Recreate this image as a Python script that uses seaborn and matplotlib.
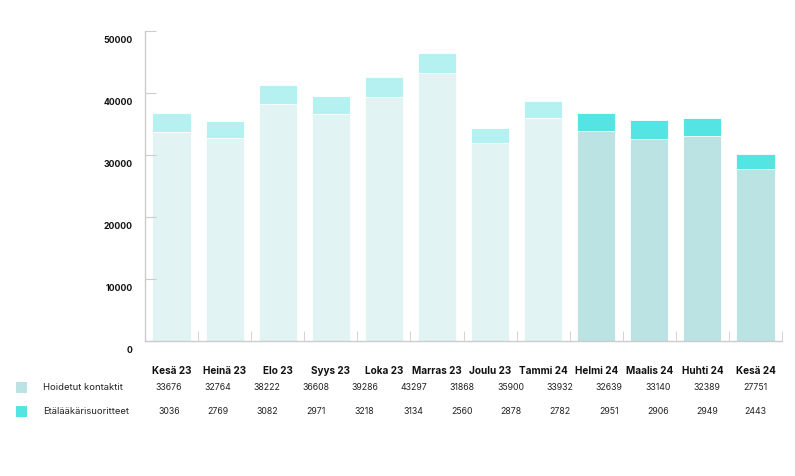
import matplotlib.pyplot as plt
import matplotlib.transforms as mtransforms
from matplotlib.patches import Rectangle
import seaborn as sns
import numpy as np

# bars (12 months shown in the chart)
months = ["Kesä 23", "Heinä 23", "Elo 23", "Syys 23", "Loka 23", "Marras 23",
          "Joulu 23", "Tammi 24", "Helmi 24", "Maalis 24", "Huhti 24", "Kesä 24"]
hoidetut = [33676, 32764, 38222, 36608, 39286, 43297, 31868, 35900, 33932, 32639, 33140, 27751]
etalaakari = [3036, 2769, 3082, 2971, 3218, 3134, 2560, 2878, 2782, 2951, 2906, 2443]

# table under the chart (13 columns, as printed in the source)
table_hoidetut = [33676, 32764, 38222, 36608, 39286, 43297, 31868, 35900, 33932, 32639, 33140, 32389, 27751]
table_etalaakari = [3036, 2769, 3082, 2971, 3218, 3134, 2560, 2878, 2782, 2951, 2906, 2949, 2443]

series_names = ["Hoidetut kontaktit", "Etälääkärisuoritteet"]
yticks = [0, 10000, 20000, 30000, 40000, 50000]

# colours: older months lighter, last four stronger
base_light, top_light = "#e1f3f3", "#b6f1f1"
base_dark, top_dark = "#bbe3e3", "#55e4e4"
n_light = 8

plt.rcParams['font.family'] = ['Inter', 'DejaVu Sans']

W, H = 795, 477
fig = plt.figure(figsize=(W / 100, H / 100), dpi=100)
ax = fig.add_axes([145 / W, 1 - 342 / H, (782 - 145) / W, (342 - 32) / H])

totals = np.array(hoidetut) + np.array(etalaakari)
top_cols = [top_light] * n_light + [top_dark] * (len(months) - n_light)
base_cols = [base_light] * n_light + [base_dark] * (len(months) - n_light)

sns.barplot(x=months, y=totals, hue=months, palette=top_cols, legend=False,
            width=0.72, ax=ax, edgecolor="white", linewidth=0.6, saturation=1)
sns.barplot(x=months, y=hoidetut, hue=months, palette=base_cols, legend=False,
            width=0.72, ax=ax, edgecolor="white", linewidth=0.6, saturation=1)

ax.set_xlim(-0.5, len(months) - 0.5)
ax.set_ylim(0, 50000)
ax.set_yticks(yticks)
ax.set_yticklabels([str(v) for v in yticks], fontsize=6.3, fontweight="bold", color="#111111")
ax.set_xticks(range(len(months)))
ax.set_xticklabels(months, fontsize=7.2, fontweight="bold", color="#111111")
ax.set_xticks(np.arange(0.5, len(months), 1), minor=True)
ax.tick_params(axis="x", which="major", length=0, pad=17)
ax.tick_params(axis="x", which="minor", length=7, direction="in", color="#cccccc")
ax.tick_params(axis="y", length=8, direction="in", color="#cccccc", pad=9)
ax.set_xlabel("")
ax.set_ylabel("")

for s in ["top", "right"]:
    ax.spines[s].set_visible(False)
for s in ["left", "bottom"]:
    ax.spines[s].set_color("#cccccc")
    ax.spines[s].set_linewidth(1)

# y labels sit a bit lower than their ticks
offset = mtransforms.ScaledTranslation(0, -8 / 100, fig.dpi_scale_trans)
for lab in ax.get_yticklabels():
    lab.set_transform(lab.get_transform() + offset)

# data table: its own evenly spaced columns
col_x = (169 + 48.9 * np.arange(len(table_hoidetut))) / W
row_y = [1 - 388 / H, 1 - 412 / H]
for yy, vals in zip(row_y, [table_hoidetut, table_etalaakari]):
    for xx, v in zip(col_x, vals):
        fig.text(xx, yy, str(v), ha="center", va="center", fontsize=6.3, color="#222222")

for yy, name, col in zip(row_y, series_names, [base_dark, top_dark]):
    fig.patches.append(Rectangle((16 / W, yy - 5.5 / H), 11 / W, 11 / H,
                                 transform=fig.transFigure, facecolor=col, edgecolor="none"))
    fig.text(43 / W, yy, name, ha="left", va="center", fontsize=6.8, color="#222222")

fig.savefig("out.png", dpi=100)
